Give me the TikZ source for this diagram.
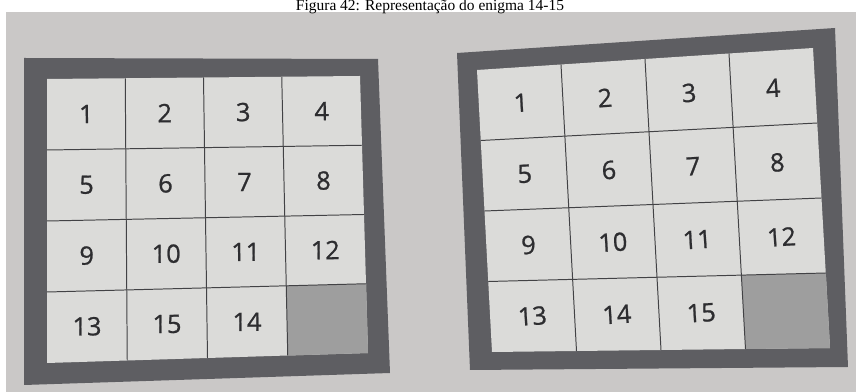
\documentclass[tikz,border=0pt]{standalone}
\usepackage{fontspec}
\setmainfont{Liberation Serif}
\newfontfamily\tilefont[FakeBold=0.9]{Open Sans}
\usetikzlibrary{calc}
\definecolor{paper}{RGB}{202,200,199}
\definecolor{rim}{RGB}{94,94,98}
\definecolor{tileface}{RGB}{219,219,217}
\definecolor{hole}{RGB}{158,158,158}
\definecolor{ink}{RGB}{45,45,48}
\tikzset{
  tilenum/.style={font=\tilefont\fontsize{18}{20}\selectfont,text=ink,inner sep=0pt},
  gridline/.style={draw=ink!90,line width=0.7pt},
  caption/.style={font=\fontsize{11}{13}\selectfont,text=black,anchor=base},
}
% point of a board at fractions (#2 across, #3 down) of its tile area
\newcommand{\cellpt}[3]{($($(#1-tl)!#2!(#1-tr)$)!#3!($(#1-bl)!#2!(#1-br)$)$)}

\begin{document}
\begin{tikzpicture}[x=0.025cm,y=-0.025cm]
  \useasboundingbox (0,0) rectangle (856,392);
  \clip (0,0) rectangle (856,392);
  \fill[paper] (6,12) rectangle (856,392);
  \node[caption] (cap) at (430,11) {Figura 42: Representação do enigma 14-15};

  % frames
  \fill[rim] (24,58) -- (378,59) -- (390,373) -- (24,385) -- cycle;
  \fill[rim] (457,53) -- (835,28) -- (848,367) -- (470,370) -- cycle;

  % tile areas
  \coordinate (L-tl) at (47,79);  \coordinate (L-tr) at (360,76);
  \coordinate (L-br) at (368,353); \coordinate (L-bl) at (47,363);
  \coordinate (R-tl) at (477,70); \coordinate (R-tr) at (813,48);
  \coordinate (R-br) at (830,348); \coordinate (R-bl) at (492,352);

  \foreach \p/\rot/\labels in {L/0.5/{1,2,3,4,5,6,7,8,9,10,11,12,13,15,14},
                               R/3.5/{1,2,3,4,5,6,7,8,9,10,11,12,13,14,15}}{
    \fill[tileface] (\p-tl) -- (\p-tr) -- (\p-br) -- (\p-bl) -- cycle;
    \fill[hole] \cellpt{\p}{0.75}{0.75} -- \cellpt{\p}{1}{0.75}
      -- \cellpt{\p}{1}{1} -- \cellpt{\p}{0.75}{1} -- cycle;
    \foreach \i in {1,2,3}{
      \pgfmathsetmacro\u{\i/4}
      \draw[gridline] \cellpt{\p}{\u}{0} -- \cellpt{\p}{\u}{1};
      \draw[gridline] \cellpt{\p}{0}{\u} -- \cellpt{\p}{1}{\u};
    }
    \foreach \n [count=\k from 0] in \labels{
      \pgfmathsetmacro\u{(mod(\k,4)+0.5)/4}
      \pgfmathsetmacro\v{(int(\k/4)+0.5)/4}
      \node[tilenum,rotate=\rot] (\p-n\n) at \cellpt{\p}{\u}{\v} {\n};
    }
  }
\end{tikzpicture}
\end{document}
